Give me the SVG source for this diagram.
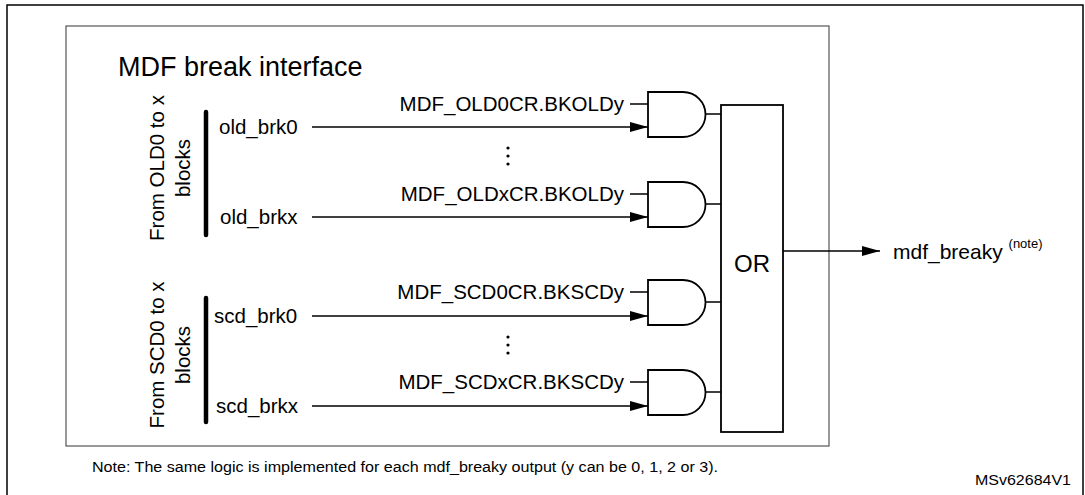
<svg xmlns="http://www.w3.org/2000/svg" width="1085" height="495" viewBox="0 0 1085 495">
<defs>
<style>
text{font-family:"Liberation Sans",Arial,sans-serif;fill:#000}
.s{font-size:20.5px}
.r{font-size:20.5px;text-anchor:end}
.g{fill:#fff;stroke:#000;stroke-width:1.8}
.l{stroke:#000;stroke-width:1.5;fill:none}
</style>
<marker id="a" viewBox="0 0 10 10" refX="10" refY="5" markerWidth="18" markerHeight="10" markerUnits="userSpaceOnUse" orient="auto" preserveAspectRatio="none"><path d="M0,0L10,5L0,10z" fill="#000"/></marker>
</defs>
<rect width="1085" height="495" fill="#fff"/>
<rect x="7" y="5" width="1076" height="500" fill="none" stroke="#000" stroke-width="1.5"/>
<g id="interface">
<rect x="66" y="26" width="763" height="420" fill="none" stroke="#555" stroke-width="1.2"/>
<text x="118" y="76" font-size="27">MDF break interface</text>
</g>
<g id="old-src">
<line x1="206" y1="112" x2="206" y2="235" stroke="#000" stroke-width="4.5" stroke-linecap="round"/>
<text transform="translate(164,168) rotate(-90)" class="s" text-anchor="middle">From OLD0 to x</text>
<text transform="translate(190,168) rotate(-90)" class="s" text-anchor="middle">blocks</text>
<text x="219" y="134" class="s">old_brk0</text>
<text x="220" y="224" class="s">old_brkx</text>
</g>
<g id="scd-src">
<line x1="206" y1="298" x2="206" y2="422" stroke="#000" stroke-width="4.5" stroke-linecap="round"/>
<text transform="translate(164,355) rotate(-90)" class="s" text-anchor="middle">From SCD0 to x</text>
<text transform="translate(190,355) rotate(-90)" class="s" text-anchor="middle">blocks</text>
<text x="214" y="323" class="s">scd_brk0</text>
<text x="216" y="413" class="s">scd_brkx</text>
</g>
<g id="gates">
<path class="g" d="M648,92H683A22.5,22.5 0 0 1 683,137H648z"/>
<path class="g" d="M648,182H683A22.5,22.5 0 0 1 683,227H648z"/>
<path class="g" d="M648,280H683A22.5,22.5 0 0 1 683,325H648z"/>
<path class="g" d="M648,370H683A22.5,22.5 0 0 1 683,415H648z"/>
<text x="624" y="111" class="r">MDF_OLD0CR.BKOLDy</text>
<text x="624" y="201" class="r">MDF_OLDxCR.BKOLDy</text>
<text x="624" y="299" class="r">MDF_SCD0CR.BKSCDy</text>
<text x="624" y="389" class="r">MDF_SCDxCR.BKSCDy</text>
</g>
<g id="or">
<rect x="721" y="105" width="62" height="327" class="g"/>
<text x="752" y="272" font-size="24" text-anchor="middle">OR</text>
</g>
<g id="output">
<text x="893" y="259" font-size="21">mdf_breaky <tspan font-size="13" dy="-11">(note)</tspan></text>
</g>
<g id="connectors">
<path class="l" d="M312,127H648" marker-end="url(#a)"/>
<path class="l" d="M312,217H648" marker-end="url(#a)"/>
<path class="l" d="M312,316H648" marker-end="url(#a)"/>
<path class="l" d="M312,406H648" marker-end="url(#a)"/>
<path class="l" d="M630,104H648M630,194H648M630,292H648M630,382H648"/>
<path class="l" d="M705,114H721M705,204H721M705,302H721M705,392H721"/>
<path class="l" d="M783,251H880" marker-end="url(#a)"/>
<g fill="#000"><circle cx="508" cy="148" r="1.6"/><circle cx="508" cy="156" r="1.6"/><circle cx="508" cy="164" r="1.6"/><circle cx="508" cy="337" r="1.6"/><circle cx="508" cy="345" r="1.6"/><circle cx="508" cy="353" r="1.6"/></g>
</g>
<text x="92" y="472" font-size="14" textLength="626" lengthAdjust="spacingAndGlyphs">Note: The same logic is implemented for each mdf_breaky output (y can be 0, 1, 2 or 3).</text>
<text x="1071" y="485" font-size="15" text-anchor="end" textLength="96" lengthAdjust="spacingAndGlyphs">MSv62684V1</text>
</svg>
